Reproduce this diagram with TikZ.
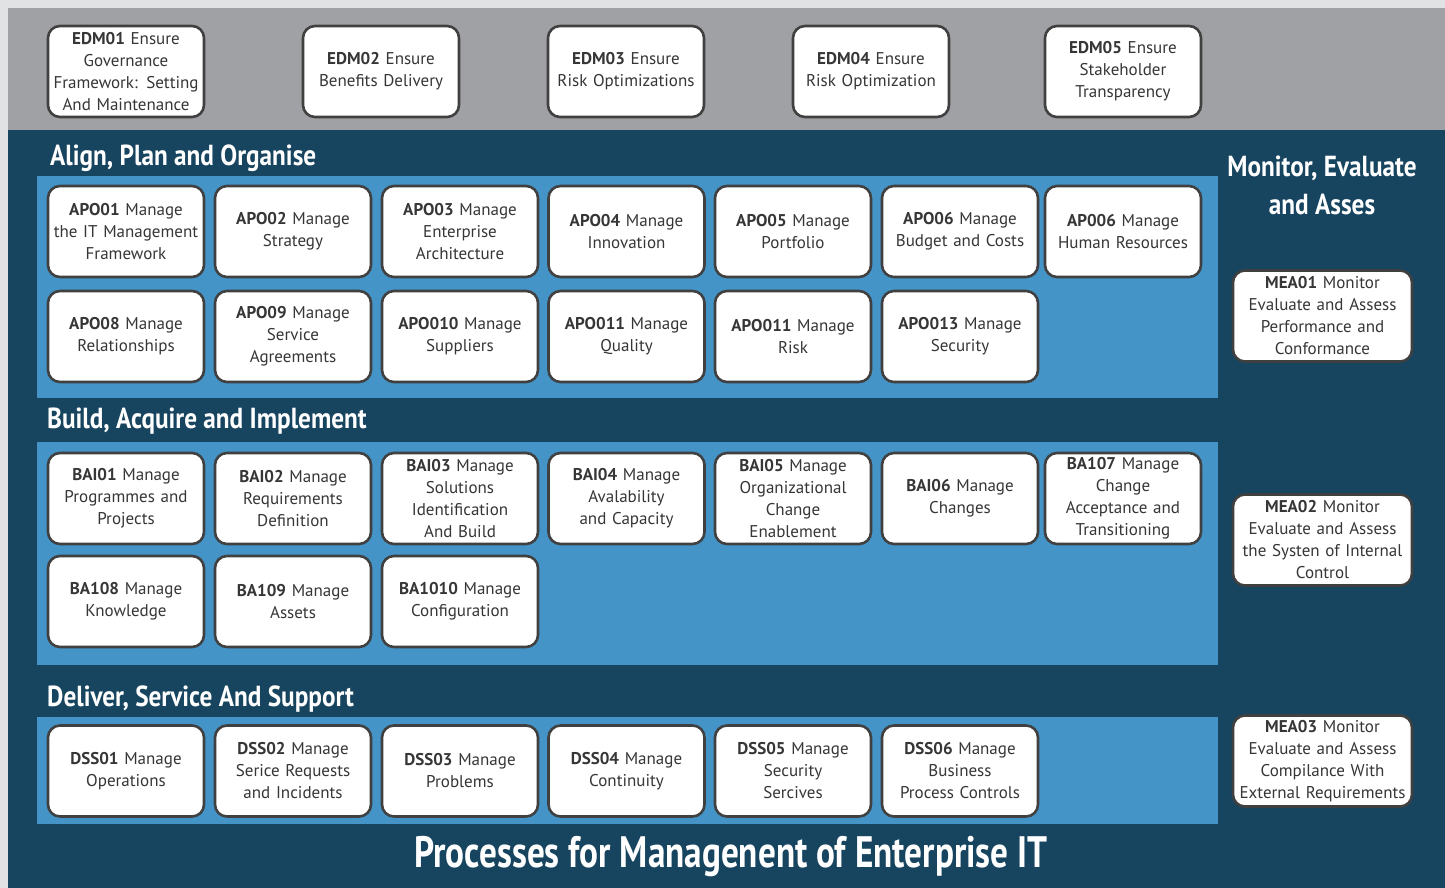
\documentclass[tikz,border=0pt]{standalone}
\usepackage{fontspec}
\setmainfont{PT Sans}
\newfontfamily\headfont[FakeStretch=0.87]{PT Sans}
\newfontfamily\titlefont[FakeStretch=0.80]{PT Sans}
\definecolor{outer}{HTML}{E1E2E4}
\definecolor{band}{HTML}{A0A1A4}
\definecolor{navy}{HTML}{17445F}
\definecolor{panel}{HTML}{4494C8}
\definecolor{edge}{HTML}{404040}
\definecolor{ink}{HTML}{363636}
\tikzset{
  proc/.style={draw=edge, line width=2.6pt, rounded corners=12pt, fill=white,
    minimum width=156pt, minimum height=91pt, text width=156pt, align=center,
    inner sep=0pt, text=ink, font=\fontsize{17}{22}\selectfont},
  meabox/.style={proc, minimum width=179pt, text width=179pt},
  head/.style={text=white, font=\headfont\bfseries\fontsize{29}{34}\selectfont, inner sep=0pt},
}
\begin{document}
\begin{tikzpicture}[x=1pt,y=-1pt]
\useasboundingbox (0,0) rectangle (1445,888);
\fill[outer] (0,0) rectangle (1445,888);
\fill[band] (8,8) rectangle (1445,130);
\fill[navy] (8,130) rectangle (1445,888);
\fill[panel] (37,176) rectangle (1218,398);
\fill[panel] (37,442) rectangle (1218,665);
\fill[panel] (37,717) rectangle (1218,824);

% EDM
\node[proc] (edm1) at (126,71.5) {\textbf{EDM01} Ensure\\Governance\\Framework: Setting\\And Maintenance};
\node[proc] (edm2) at (381,71.5) {\textbf{EDM02} Ensure\\Benefits Delivery};
\node[proc] (edm3) at (626,71.5) {\textbf{EDM03} Ensure\\Risk Optimizations};
\node[proc] (edm4) at (871,71.5) {\textbf{EDM04} Ensure\\Risk Optimization};
\node[proc] (edm5) at (1123,71.5) {\textbf{EDM05} Ensure\\Stakeholder\\Transparency};

% headings
\node[head, anchor=west] (hapo) at (50,158) {Align, Plan and Organise};
\node[head, anchor=west] (hbai) at (47,421) {Build, Acquire and Implement};
\node[head, anchor=west] (hdss) at (47,699) {Deliver, Service And Support};
\node[head, align=center, font=\headfont\bfseries\fontsize{29}{38}\selectfont] (hmea) at (1322,185) {Monitor, Evaluate\\and Asses};
\node[head, font=\titlefont\bfseries\fontsize{44}{50}\selectfont] (title) at (731,857) {Processes for Managenent of Enterprise IT};

% APO
\node[proc] (apo1) at (126,231.5) {\textbf{APO01} Manage\\the IT Management\\Framework};
\node[proc] (apo2) at (293,231.5) {\textbf{APO02} Manage\\Strategy};
\node[proc] (apo3) at (460,231.5) {\textbf{APO03} Manage\\Enterprise\\Architecture};
\node[proc] (apo4) at (626.5,231.5) {\textbf{APO04} Manage\\Innovation};
\node[proc] (apo5) at (793,231.5) {\textbf{APO05} Manage\\Portfolio};
\node[proc] (apo6) at (960,231.5) {\textbf{APO06} Manage\\Budget and Costs};
\node[proc] (apo7) at (1123,231.5) {\textbf{AP006} Manage\\Human Resources};
\node[proc] (apo8) at (126,336.5) {\textbf{APO08} Manage\\Relationships};
\node[proc] (apo9) at (293,336.5) {\textbf{APO09} Manage\\Service\\Agreements};
\node[proc] (apo10) at (460,336.5) {\textbf{APO010} Manage\\Suppliers};
\node[proc] (apo11) at (626.5,336.5) {\textbf{APO011} Manage\\Quality};
\node[proc] (apo12) at (793,336.5) {\textbf{APO011} Manage\\Risk};
\node[proc] (apo13) at (960,336.5) {\textbf{APO013} Manage\\Security};

% BAI
\node[proc] (bai1) at (126,498.5) {\textbf{BAI01} Manage\\Programmes and\\Projects};
\node[proc] (bai2) at (293,498.5) {\textbf{BAI02} Manage\\Requirements\\Definition};
\node[proc] (bai3) at (460,498.5) {\textbf{BAI03} Manage\\Solutions\\Identification\\And Build};
\node[proc] (bai4) at (626.5,498.5) {\textbf{BAI04} Manage\\Avalability\\and Capacity};
\node[proc] (bai5) at (793,498.5) {\textbf{BAI05} Manage\\Organizational\\Change\\Enablement};
\node[proc] (bai6) at (960,498.5) {\textbf{BAI06} Manage\\Changes};
\node[proc] (bai7) at (1123,498.5) {\textbf{BA107} Manage\\Change\\Acceptance and\\Transitioning};
\node[proc] (bai8) at (126,601.5) {\textbf{BA108} Manage\\Knowledge};
\node[proc] (bai9) at (293,601.5) {\textbf{BA109} Manage\\Assets};
\node[proc] (bai10) at (460,601.5) {\textbf{BA1010} Manage\\Configuration};

% DSS
\node[proc] (dss1) at (126,771) {\textbf{DSS01} Manage\\Operations};
\node[proc] (dss2) at (293,771) {\textbf{DSS02} Manage\\Serice Requests\\and Incidents};
\node[proc] (dss3) at (460,771) {\textbf{DSS03} Manage\\Problems};
\node[proc] (dss4) at (626.5,771) {\textbf{DSS04} Manage\\Continuity};
\node[proc] (dss5) at (793,771) {\textbf{DSS05} Manage\\Security\\Sercives};
\node[proc] (dss6) at (960,771) {\textbf{DSS06} Manage\\Business\\Process Controls};

% MEA
\node[meabox] (mea1) at (1322.5,316) {\textbf{MEA01} Monitor\\Evaluate and Assess\\Performance and\\Conformance};
\node[meabox] (mea2) at (1322.5,540) {\textbf{MEA02} Monitor\\Evaluate and Assess\\the Systen of Internal\\Control};
\node[meabox] (mea3) at (1322.5,761) {\textbf{MEA03} Monitor\\Evaluate and Assess\\Compilance With\\External Requirements};
\end{tikzpicture}
\end{document}
